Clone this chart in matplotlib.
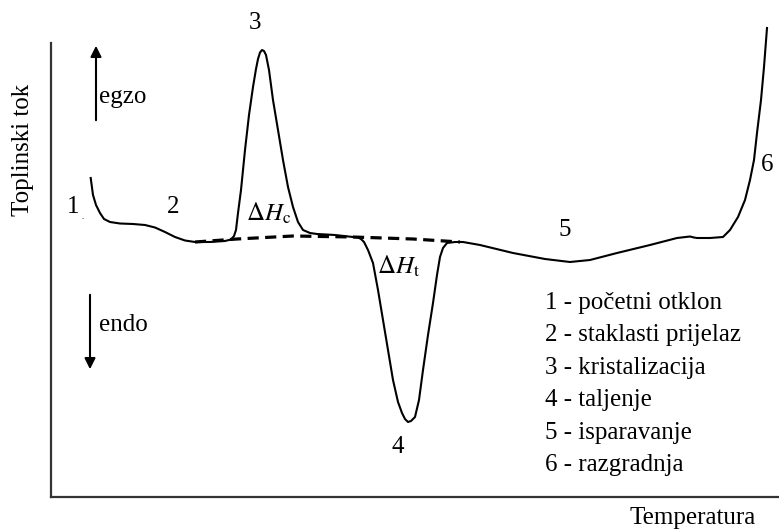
import matplotlib
matplotlib.use('Agg')
import matplotlib.pyplot as plt

# DSC curve (arbitrary units: temperature, heat flow)
temperature = [39.7, 42, 45, 49, 53, 59, 69, 82, 94, 104, 114, 124, 134, 144, 159, 174,
               180, 183, 185, 187, 190, 194, 198, 202, 205, 207, 209, 211, 213, 215, 218,
               222, 227, 232, 237, 242, 247, 252, 259, 266, 284, 302, 307, 310, 313, 317,
               322, 327, 332, 337, 342, 347, 351, 354, 357, 360, 364, 368, 372, 377, 382,
               386, 389, 392, 396, 404, 412, 429, 462, 494, 519, 539, 566, 599, 626, 639,
               643, 646, 659, 672, 679, 687, 694, 699, 703, 706, 710, 713, 716]
heat_flow = [319, 302, 292, 284, 278, 275, 273.5, 273, 272, 269.5, 265, 260, 256.5, 255, 255, 256,
             257.5, 261, 267, 284, 307, 347, 382, 410, 428, 438, 444.5, 447, 446, 442, 427,
             397, 367, 337, 310, 290, 275, 267, 264, 263, 262, 260, 259.5, 258, 255, 247,
             234, 207, 177, 147, 117, 95, 84, 78, 75, 76, 80, 97, 127, 162, 194,
             222, 240, 249, 254, 255, 255, 252, 244, 238, 235, 237, 244, 252, 259, 260.5,
             259.5, 259, 259, 260, 267, 280, 297, 317, 337, 364, 397, 430, 469]

# dashed baseline under the crystallization and melting peaks
base_t = [144, 186, 242, 302, 362, 409]
base_q = [255, 258, 261, 260, 258, 255]

legend_lines = ["1 - početni otklon", "2 - staklasti prijelaz", "3 - kristalizacija",
                "4 - taljenje", "5 - isparavanje", "6 - razgradnja"]

plt.rcParams['font.family'] = ['Liberation Serif', 'DejaVu Serif']
plt.rcParams['mathtext.fontset'] = 'stix'

fig = plt.figure(figsize=(7.79, 5.29), dpi=100)
ax = fig.add_axes([51 / 779, 32 / 529, 728 / 779, 454 / 529])
ax.set_xlim(0, 728)
ax.set_ylim(0, 454)

ax.plot(temperature, heat_flow, color='black', lw=1.5, clip_on=False,
        solid_joinstyle='round')
ax.plot(base_t, base_q, color='black', lw=2.3, linestyle=(0, (3.5, 2)))

for side in ['top', 'right']:
    ax.spines[side].set_visible(False)
for side in ['left', 'bottom']:
    ax.spines[side].set_linewidth(1.6)
    ax.spines[side].set_color('#333333')
ax.set_xticks([])
ax.set_yticks([])

fs = 18
# exo / endo arrows
ax.annotate('', xy=(45, 454), xytext=(45, 374),
            arrowprops=dict(arrowstyle='-|>', color='black', lw=1.5, mutation_scale=16))
ax.annotate('', xy=(39, 125), xytext=(39, 205),
            arrowprops=dict(arrowstyle='-|>', color='black', lw=1.5, mutation_scale=16))
ax.text(48, 400, 'egzo', fontsize=fs, ha='left', va='center')
ax.text(48, 172, 'endo', fontsize=fs, ha='left', va='center')

# peak numbers
ax.text(204, 474, '3', fontsize=fs, ha='center', va='center', clip_on=False)
ax.text(22, 290, '1', fontsize=fs, ha='center', va='center')
ax.text(32, 280, '.', fontsize=6, ha='center', va='center')
ax.text(122, 290, '2', fontsize=fs, ha='center', va='center')
ax.text(347, 50, '4', fontsize=fs, ha='center', va='center')
ax.text(514, 267, '5', fontsize=fs, ha='center', va='center')
ax.text(716, 332, '6', fontsize=fs, ha='center', va='center')

ax.text(195, 284, r'$\Delta H_{\mathrm{c}}$', fontsize=fs, ha='left', va='center')
ax.text(326, 231, r'$\Delta H_{\mathrm{t}}$', fontsize=fs, ha='left', va='center')

for k, line in enumerate(legend_lines):
    ax.text(494, 194 - 32.4 * k, line, fontsize=fs, ha='left', va='center')

ax.text(642, -21, 'Temperatura', fontsize=fs, ha='center', va='center', clip_on=False)
ax.text(-28, 347, 'Toplinski tok', fontsize=fs, ha='center', va='center',
        rotation=90, clip_on=False)

fig.savefig('out.png', dpi=100, facecolor='white')
